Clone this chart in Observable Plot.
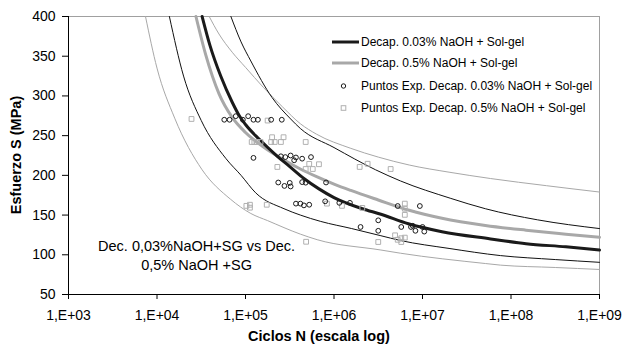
<!DOCTYPE html>
<html><head><meta charset="utf-8">
<script src="https://cdn.jsdelivr.net/npm/d3@7"></script>
<script src="https://cdn.jsdelivr.net/npm/@observablehq/plot@0.6"></script>
<style>
body{margin:0;background:#fff;}
#chart{position:relative;width:623px;height:349px;}
</style>
</head><body><div id="chart"></div>
<script>
// ---- data (x values given as log10 of cycles N) ----
const xTickExponents = [3,4,5,6,7,8,9];
const yTickValues = [50,100,150,200,250,300,350,400];

const meanBlackLogN = [4.51,4.6,4.72,4.85,4.93,5.0,5.15,5.36,5.5,5.66,5.83,6.0,6.32,6.53,6.84,7.22,7.77,8.17,8.62,9.0];
const meanBlackS    = [400,363,325,292,275,264,246,224,211,196,183,172,158,151,139,129,120,114,110,106];

const meanGrayLogN = [4.44,4.55,4.7,4.85,5.0,5.2,5.44,5.62,5.81,6.0,6.19,6.5,6.85,7.22,7.71,8.17,8.62,9.0];
const meanGrayS    = [400,352,303,273,254,236,219,208,198,189,181,169,156,146,137,131,126,122];

const upperBlackLogN = [4.835,4.95,5.06,5.3,5.51,5.62,6.0,6.47,6.75,7.32,7.71,8.3,9.0];
const upperBlackS    = [400,368,344,298,271,259,235,207,193,171,158,144,133];

const upperGrayLogN = [4.59,4.7,4.85,5.0,5.2,5.42,5.62,5.8,6.19,6.5,6.85,7.3,7.77,8.4,9.0];
const upperGrayS    = [400,378,355,336,311,286,265,252,234,223,213,204,196,187,179];

const lowerBlackLogN = [4.14,4.3,4.5,4.78,4.95,5.115,5.435,5.62,5.85,6.2,6.53,6.75,7.3,7.88,8.5,9.0];
const lowerBlackS    = [400,325,269,221,200,178,158,150,142,133,124,118,108,99,94,90.5];

const lowerGrayLogN = [3.87,4.0,4.2,4.51,4.83,5.06,5.25,5.62,5.81,6.53,6.75,7.71,7.88,8.5,9.0];
const lowerGrayS    = [400,335,272,207,170,152,143,126,119,106,102,89,87,84,81.5];

const circlesLogN = [4.76,4.82,4.89,4.97,5.03,5.09,5.14,5.29,5.41,
  5.09,5.40,5.45,5.51,5.55,5.57,5.64,5.74,
  5.37,5.44,5.50,5.51,5.64,5.68,5.91,
  5.57,5.62,5.66,5.72,5.90,6.06,6.18,6.72,6.97,
  6.30,6.50,6.50,6.76,6.87,6.89,6.92,7.00,7.02];
const circlesS = [270,270,274.5,270,274.5,270,270,270,270,
  222,224,223,225,219,222.5,221,223,
  191,186.7,190.5,186,191.5,190.8,191,
  164.4,164.4,162.2,163,167.3,165.4,165.4,161.4,161.4,
  135,143.4,130.2,135,135,136.5,130.2,135,129.2];

const squaresLogN = [4.39,5.25,5.30,5.43,5.07,5.10,5.13,5.17,5.29,5.33,5.40,5.68,
  5.36,5.72,5.83,5.68,5.76,6.29,6.38,6.64,
  5.01,5.05,5.05,5.24,5.92,6.09,6.32,6.80,6.80,6.80,
  5.685,6.50,6.69,6.72,6.76,6.80,6.76];
const squaresS = [271,269,248,248,242,242,242,242,242,242,242,242,
  210.6,214.4,214,208,208,210.6,214.6,208,
  161.6,163,159.3,163,164.4,161.6,159,164.4,158,150.3,
  116.4,116.1,124.5,118.9,120.8,121.6,116.1];

const legendLabels = [
  "Decap. 0.03% NaOH + Sol-gel",
  "Decap. 0.5% NaOH + Sol-gel",
  "Puntos Exp. Decap. 0.03% NaOH + Sol-gel",
  "Puntos Exp. Decap. 0.5% NaOH + Sol-gel"
];
const noteLines = ["Dec. 0,03%NaOH+SG vs Dec.", "0,5% NaOH +SG"];
const xTitle = "Ciclos N (escala log)";
const yTitle = "Esfuerzo S (MPa)";

// ---- tables ----
const toRows = (logN, S) => logN.map((v, i) => ({N: 10 ** v, S: S[i]}));
const curveStyles = [
  {rows: toRows(lowerGrayLogN, lowerGrayS), stroke: "#a8a8a8", w: 1},
  {rows: toRows(upperGrayLogN, upperGrayS), stroke: "#a8a8a8", w: 1},
  {rows: toRows(lowerBlackLogN, lowerBlackS), stroke: "#111", w: 1},
  {rows: toRows(upperBlackLogN, upperBlackS), stroke: "#111", w: 1},
  {rows: toRows(meanGrayLogN, meanGrayS), stroke: "#a8a8a8", w: 3},
  {rows: toRows(meanBlackLogN, meanBlackS), stroke: "#1a1a1a", w: 3}
];
const circles = toRows(circlesLogN, circlesS);
const squares = toRows(squaresLogN, squaresS);
const xTicks = xTickExponents.map(e => 10 ** e);
const fmt = d => "1,E+" + String(Math.round(Math.log10(d))).padStart(2, "0");

const font = "'Liberation Sans', Arial, sans-serif";
const chart = Plot.plot({
  width: 623, height: 349,
  marginLeft: 68, marginRight: 24, marginTop: 16, marginBottom: 55,
  style: {fontFamily: font, fontSize: "14px", color: "#000", background: "#fff"},
  x: {type: "log", domain: [1e3, 1e9]},
  y: {domain: [50, 400]},
  marks: [
    Plot.ruleY([400], {stroke: "#a0a0a0"}),
    Plot.ruleX([1e9], {stroke: "#a0a0a0"}),
    ...curveStyles.map(c => Plot.line(c.rows, {x: "N", y: "S", stroke: c.stroke, strokeWidth: c.w, curve: "monotone-x"})),
    Plot.dot(squares, {x: "N", y: "S", symbol: "square", r: 2.7, stroke: "#b0b0b0", fill: "none", strokeWidth: 1}),
    Plot.dot(circles, {x: "N", y: "S", symbol: "circle", r: 2.4, stroke: "#1a1a1a", fill: "none", strokeWidth: 1}),
    Plot.text([noteLines.join("\n")], {x: [2.8e4], y: [100], text: d => d, fontSize: 14.5, lineHeight: 1.3, fill: "#000"}),
    Plot.axisX({ticks: xTicks, tickFormat: fmt, tickSize: 5, tickPadding: 11, label: null, stroke: "#000"}),
    Plot.axisY({ticks: yTickValues, tickSize: 6, tickPadding: 7, label: null, stroke: "#000"}),
    Plot.ruleX([1e3], {stroke: "#000"}),
    Plot.ruleY([50], {stroke: "#000"})
  ]
});
document.getElementById("chart").appendChild(chart);

// ---- titles and legend (layout) ----
const svg = d3.select(chart);
svg.append("text").attr("x", 319).attr("y", 341).attr("text-anchor", "middle")
  .attr("font-weight", "bold").attr("font-size", 14.5).attr("font-family", font).text(xTitle);
svg.append("text").attr("transform", "translate(21,155) rotate(-90)").attr("text-anchor", "middle")
  .attr("font-weight", "bold").attr("font-size", 14.5).attr("font-family", font).text(yTitle);

const lg = svg.append("g").attr("font-family", font).attr("font-size", 12).attr("text-anchor", "start");
const rowsY = [42, 63, 86, 108];
lg.append("line").attr("x1", 332).attr("x2", 359).attr("y1", rowsY[0]).attr("y2", rowsY[0]).attr("stroke", "#1a1a1a").attr("stroke-width", 3);
lg.append("line").attr("x1", 332).attr("x2", 359).attr("y1", rowsY[1]).attr("y2", rowsY[1]).attr("stroke", "#a8a8a8").attr("stroke-width", 3);
lg.append("circle").attr("cx", 343.5).attr("cy", rowsY[2]).attr("r", 2.2).attr("fill", "none").attr("stroke", "#1a1a1a");
lg.append("rect").attr("x", 341.2).attr("y", rowsY[3] - 2.3).attr("width", 4.6).attr("height", 4.6).attr("fill", "none").attr("stroke", "#b0b0b0");
legendLabels.forEach((t, i) => {
  lg.append("text").attr("x", 361).attr("y", rowsY[i]).attr("dy", "0.35em").attr("text-anchor", "start").text(t);
});
</script>
</body></html>
